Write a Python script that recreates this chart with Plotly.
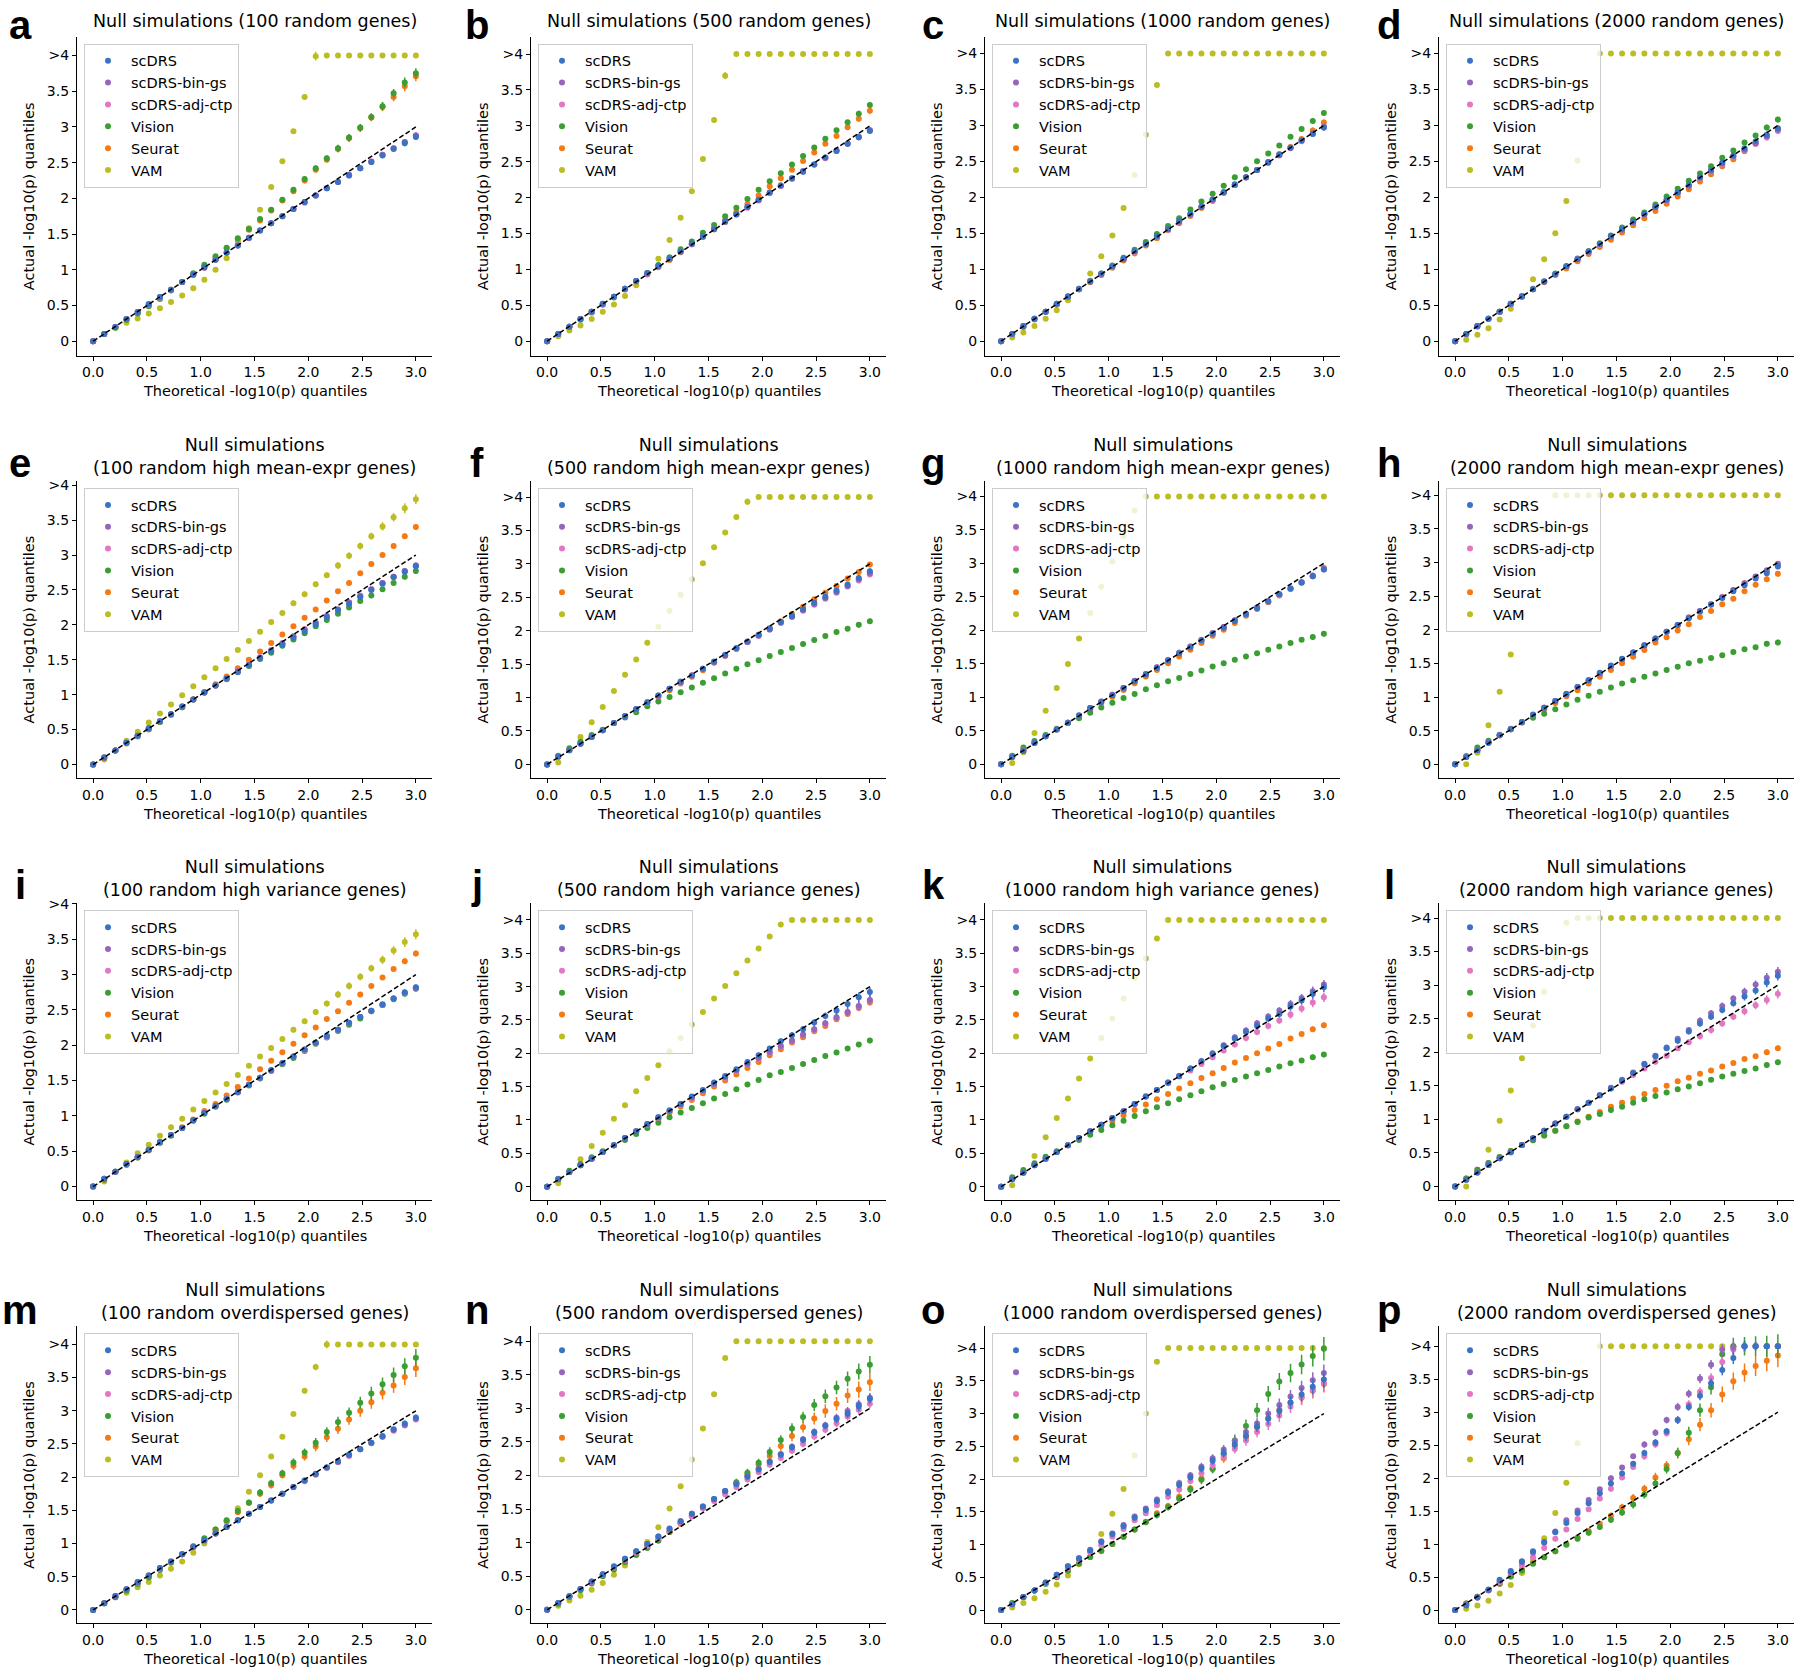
import plotly.graph_objects as go

W, H = 1800, 1673

# x grid (theoretical -log10(p) quantiles)
X = [0.0, 0.103, 0.207, 0.31, 0.414, 0.517, 0.621, 0.724, 0.828, 0.931, 1.034, 1.138, 1.241, 1.345, 1.448,
     1.552, 1.655, 1.759, 1.862, 1.966, 2.069, 2.172, 2.276, 2.379, 2.483, 2.586, 2.69, 2.793, 2.897, 3.0]

SERIES = ["scDRS", "scDRS-bin-gs", "scDRS-adj-ctp", "Vision", "Seurat", "VAM"]
COLORS = ["#3a72c4", "#9467bd", "#e377c2", "#3a9e32", "#f57a14", "#bcbd22"]

# ---------------- panel a ----------------
A_SCDRS = [0,0.10,0.20,0.31,0.41,0.52,0.62,0.72,0.83,0.93,1.04,1.14,1.24,1.34,1.45,1.55,1.65,1.75,1.85,1.95,2.04,2.14,2.23,2.32,2.42,2.51,2.60,2.69,2.77,2.86]
A_BIN = [0,0.10,0.20,0.31,0.41,0.51,0.62,0.72,0.83,0.93,1.03,1.14,1.24,1.34,1.45,1.55,1.65,1.75,1.85,1.95,2.04,2.14,2.23,2.33,2.42,2.51,2.61,2.70,2.79,2.88]
A_ADJ = [0,0.10,0.20,0.31,0.41,0.51,0.61,0.72,0.83,0.93,1.03,1.14,1.24,1.34,1.44,1.55,1.65,1.75,1.85,1.94,2.04,2.14,2.23,2.32,2.42,2.52,2.61,2.70,2.79,2.88]
A_VISION = [0,0.10,0.19,0.30,0.39,0.49,0.59,0.71,0.83,0.95,1.07,1.19,1.31,1.44,1.57,1.71,1.84,1.98,2.12,2.27,2.42,2.56,2.70,2.85,2.99,3.14,3.29,3.47,3.62,3.75]
A_SEURAT = [0,0.10,0.20,0.30,0.40,0.50,0.61,0.72,0.83,0.94,1.05,1.17,1.30,1.43,1.56,1.69,1.83,1.97,2.10,2.25,2.40,2.54,2.69,2.84,2.98,3.13,3.28,3.42,3.57,3.71]
A_VAM = [0,0.10,0.19,0.26,0.32,0.39,0.46,0.55,0.64,0.74,0.86,1.00,1.16,1.40,1.58,1.84,2.16,2.52,2.94,3.42,3.99,4,4,4,4,4,4,4,4,4]
# ---------------- panel b ----------------
B_SCDRS = [0,0.10,0.20,0.31,0.41,0.52,0.62,0.73,0.84,0.95,1.05,1.15,1.25,1.36,1.46,1.56,1.67,1.77,1.87,1.97,2.07,2.17,2.27,2.36,2.46,2.56,2.65,2.75,2.84,2.93]
B_BIN = [0,0.10,0.20,0.31,0.41,0.52,0.62,0.73,0.84,0.94,1.04,1.15,1.25,1.35,1.46,1.56,1.66,1.77,1.87,1.97,2.07,2.17,2.27,2.37,2.46,2.56,2.66,2.75,2.85,2.94]
B_ADJ = [0,0.10,0.20,0.31,0.41,0.51,0.62,0.72,0.83,0.94,1.04,1.14,1.25,1.35,1.45,1.56,1.66,1.76,1.86,1.96,2.06,2.16,2.26,2.36,2.46,2.55,2.65,2.75,2.84,2.94]
B_VISION = [0,0.10,0.20,0.30,0.40,0.51,0.61,0.73,0.84,0.95,1.06,1.17,1.28,1.39,1.51,1.62,1.74,1.86,1.98,2.11,2.23,2.34,2.46,2.58,2.70,2.82,2.94,3.05,3.17,3.29]
B_SEURAT = [0,0.10,0.20,0.31,0.41,0.51,0.62,0.72,0.83,0.93,1.03,1.13,1.24,1.35,1.46,1.57,1.69,1.80,1.91,2.03,2.16,2.27,2.39,2.51,2.63,2.75,2.86,2.98,3.10,3.21]
B_VAM = [0,0.07,0.15,0.22,0.31,0.41,0.51,0.63,0.78,0.94,1.15,1.41,1.72,2.09,2.54,3.08,3.70,4,4,4,4,4,4,4,4,4,4,4,4,4]
# ---------------- panel c ----------------
C_SCDRS = [0,0.10,0.21,0.31,0.41,0.52,0.62,0.73,0.83,0.94,1.04,1.15,1.25,1.35,1.46,1.56,1.67,1.77,1.87,1.97,2.07,2.18,2.28,2.38,2.49,2.59,2.69,2.79,2.88,2.97]
C_BIN = [0,0.10,0.21,0.31,0.41,0.52,0.62,0.72,0.83,0.93,1.04,1.14,1.25,1.35,1.45,1.56,1.66,1.76,1.87,1.97,2.07,2.17,2.28,2.38,2.48,2.59,2.69,2.79,2.89,2.98]
C_ADJ = [0,0.10,0.21,0.31,0.41,0.51,0.62,0.72,0.83,0.93,1.03,1.14,1.24,1.35,1.45,1.55,1.66,1.76,1.86,1.96,2.07,2.17,2.27,2.38,2.48,2.58,2.68,2.78,2.88,2.97]
C_VISION = [0,0.10,0.20,0.31,0.41,0.51,0.62,0.72,0.84,0.94,1.05,1.16,1.27,1.38,1.49,1.60,1.71,1.83,1.94,2.05,2.16,2.28,2.39,2.50,2.61,2.72,2.84,2.95,3.06,3.17]
C_SEURAT = [0,0.10,0.20,0.30,0.41,0.51,0.61,0.72,0.82,0.92,1.02,1.12,1.22,1.33,1.43,1.54,1.64,1.74,1.85,1.95,2.06,2.17,2.28,2.38,2.49,2.60,2.70,2.81,2.93,3.04]
C_VAM = [0,0.05,0.12,0.21,0.31,0.43,0.57,0.73,0.94,1.18,1.47,1.85,2.31,2.87,3.56,4,4,4,4,4,4,4,4,4,4,4,4,4,4,4]
# ---------------- panel d ----------------
D_SCDRS = [0,0.10,0.21,0.31,0.41,0.52,0.62,0.72,0.83,0.93,1.04,1.14,1.25,1.35,1.46,1.56,1.66,1.77,1.87,1.97,2.07,2.17,2.28,2.38,2.48,2.58,2.68,2.78,2.87,2.96]
D_BIN = [0,0.10,0.21,0.31,0.41,0.52,0.62,0.72,0.83,0.93,1.04,1.14,1.24,1.35,1.45,1.55,1.66,1.76,1.86,1.96,2.06,2.16,2.27,2.37,2.47,2.57,2.66,2.75,2.85,2.94]
D_ADJ = [0,0.10,0.21,0.31,0.41,0.51,0.62,0.72,0.83,0.93,1.03,1.14,1.24,1.34,1.45,1.55,1.65,1.76,1.86,1.96,2.06,2.16,2.26,2.36,2.46,2.56,2.65,2.74,2.83,2.92]
D_VISION = [0,0.10,0.21,0.31,0.41,0.52,0.62,0.73,0.83,0.94,1.04,1.15,1.25,1.36,1.47,1.58,1.69,1.79,1.90,2.01,2.12,2.23,2.33,2.43,2.55,2.65,2.76,2.86,2.97,3.08]
D_SEURAT = [0,0.10,0.20,0.31,0.41,0.51,0.62,0.72,0.82,0.92,1.01,1.11,1.21,1.31,1.41,1.51,1.61,1.71,1.81,1.91,2.01,2.11,2.22,2.32,2.43,2.53,2.64,2.75,2.85,2.95]
D_VAM = [0,0.02,0.09,0.18,0.30,0.45,0.63,0.86,1.14,1.50,1.95,2.51,3.20,4,4,4,4,4,4,4,4,4,4,4,4,4,4,4,4,4]
# ---------------- panel e ----------------
E_SCDRS = [0,0.10,0.20,0.31,0.41,0.52,0.62,0.72,0.83,0.93,1.03,1.13,1.23,1.33,1.42,1.52,1.62,1.72,1.82,1.91,2.01,2.11,2.21,2.30,2.40,2.50,2.59,2.68,2.76,2.84]
E_BIN = [0,0.10,0.20,0.31,0.41,0.52,0.62,0.72,0.83,0.93,1.03,1.13,1.23,1.33,1.43,1.53,1.63,1.73,1.83,1.93,2.03,2.12,2.22,2.32,2.41,2.51,2.60,2.69,2.77,2.85]
E_ADJ = [0,0.10,0.20,0.31,0.41,0.52,0.62,0.72,0.83,0.93,1.03,1.13,1.23,1.34,1.44,1.54,1.64,1.74,1.84,1.94,2.03,2.13,2.22,2.32,2.42,2.51,2.60,2.69,2.77,2.85]
E_VISION = [0,0.10,0.20,0.31,0.41,0.51,0.61,0.72,0.82,0.93,1.03,1.13,1.22,1.32,1.41,1.51,1.60,1.70,1.79,1.88,1.98,2.07,2.16,2.25,2.34,2.42,2.51,2.60,2.69,2.77]
E_SEURAT = [0,0.09,0.20,0.30,0.40,0.50,0.61,0.71,0.82,0.93,1.04,1.15,1.26,1.38,1.50,1.62,1.74,1.86,1.98,2.10,2.22,2.35,2.48,2.60,2.74,2.87,3.00,3.13,3.27,3.40]
E_VAM = [0,0.07,0.20,0.34,0.47,0.60,0.73,0.86,0.99,1.12,1.25,1.38,1.51,1.64,1.77,1.90,2.04,2.17,2.31,2.44,2.58,2.71,2.85,2.99,3.13,3.27,3.41,3.54,3.67,3.80]
# ---------------- panel f ----------------
F_SCDRS = [0,0.12,0.21,0.31,0.41,0.51,0.62,0.72,0.83,0.93,1.03,1.13,1.24,1.33,1.43,1.54,1.64,1.74,1.84,1.94,2.03,2.13,2.22,2.32,2.42,2.51,2.60,2.69,2.79,2.89]
F_BIN = [0,0.12,0.21,0.31,0.41,0.51,0.62,0.72,0.83,0.93,1.03,1.13,1.23,1.33,1.43,1.53,1.63,1.73,1.83,1.93,2.02,2.12,2.21,2.31,2.40,2.49,2.58,2.67,2.77,2.86]
F_ADJ = [0,0.12,0.21,0.31,0.41,0.51,0.62,0.72,0.82,0.92,1.02,1.13,1.23,1.33,1.43,1.53,1.63,1.73,1.83,1.92,2.02,2.12,2.21,2.30,2.39,2.48,2.57,2.66,2.75,2.84]
F_VISION = [0,0.13,0.24,0.34,0.44,0.52,0.62,0.70,0.78,0.87,0.94,1.01,1.08,1.15,1.22,1.29,1.36,1.43,1.50,1.56,1.62,1.68,1.74,1.80,1.86,1.92,1.98,2.03,2.09,2.14]
F_SEURAT = [0,0.11,0.22,0.32,0.42,0.51,0.62,0.72,0.82,0.92,1.01,1.11,1.21,1.31,1.41,1.52,1.62,1.73,1.83,1.94,2.04,2.14,2.25,2.36,2.47,2.57,2.67,2.78,2.88,2.99]
F_VAM = [0,0.03,0.22,0.41,0.63,0.86,1.10,1.34,1.57,1.82,2.06,2.30,2.54,2.77,3.01,3.25,3.47,3.70,3.93,4,4,4,4,4,4,4,4,4,4,4]
# ---------------- panel g ----------------
G_SCDRS = [0,0.11,0.20,0.32,0.42,0.52,0.62,0.73,0.84,0.93,1.03,1.14,1.24,1.34,1.44,1.55,1.66,1.75,1.85,1.95,2.04,2.14,2.24,2.33,2.43,2.54,2.62,2.71,2.81,2.91]
G_BIN = [0,0.11,0.21,0.32,0.42,0.52,0.62,0.73,0.84,0.94,1.04,1.14,1.25,1.35,1.45,1.55,1.66,1.76,1.86,1.96,2.05,2.15,2.25,2.34,2.44,2.54,2.63,2.72,2.82,2.92]
G_ADJ = [0,0.11,0.21,0.32,0.42,0.52,0.62,0.73,0.84,0.94,1.04,1.14,1.24,1.35,1.45,1.56,1.67,1.76,1.85,1.95,2.05,2.15,2.24,2.34,2.43,2.53,2.62,2.72,2.81,2.91]
G_VISION = [0,0.13,0.25,0.35,0.44,0.53,0.62,0.69,0.77,0.85,0.92,0.99,1.05,1.12,1.18,1.24,1.29,1.35,1.40,1.46,1.51,1.56,1.61,1.66,1.71,1.76,1.81,1.86,1.90,1.95]
G_SEURAT = [0,0.12,0.22,0.33,0.42,0.52,0.62,0.72,0.82,0.92,1.01,1.11,1.21,1.31,1.41,1.51,1.61,1.71,1.81,1.92,2.01,2.11,2.22,2.32,2.42,2.52,2.62,2.72,2.81,2.93]
G_VAM = [0,0.02,0.18,0.47,0.80,1.14,1.50,1.88,2.26,2.65,3.03,3.41,3.79,4,4,4,4,4,4,4,4,4,4,4,4,4,4,4,4,4]
# ---------------- panel h ----------------
H_SCDRS = [0,0.11,0.21,0.32,0.43,0.52,0.63,0.74,0.84,0.94,1.05,1.15,1.25,1.36,1.47,1.57,1.66,1.77,1.87,1.97,2.07,2.17,2.27,2.37,2.47,2.57,2.66,2.76,2.84,2.94]
H_BIN = [0,0.11,0.21,0.32,0.43,0.52,0.63,0.73,0.84,0.94,1.04,1.15,1.25,1.35,1.46,1.56,1.66,1.77,1.87,1.97,2.07,2.18,2.28,2.38,2.48,2.59,2.69,2.79,2.88,2.98]
H_ADJ = [0,0.11,0.21,0.32,0.43,0.52,0.63,0.73,0.84,0.94,1.04,1.15,1.25,1.35,1.46,1.56,1.66,1.76,1.86,1.97,2.07,2.18,2.28,2.38,2.49,2.59,2.69,2.78,2.88,2.97]
H_VISION = [0,0.12,0.25,0.35,0.44,0.53,0.62,0.69,0.75,0.82,0.89,0.96,1.02,1.08,1.14,1.20,1.25,1.30,1.35,1.40,1.45,1.50,1.54,1.58,1.62,1.67,1.71,1.74,1.79,1.81]
H_SEURAT = [0,0.12,0.22,0.33,0.43,0.52,0.62,0.72,0.82,0.91,1.01,1.10,1.20,1.30,1.40,1.50,1.60,1.70,1.81,1.89,1.99,2.08,2.19,2.28,2.38,2.46,2.57,2.67,2.75,2.83]
H_VAM = [0,0.0,0.17,0.58,1.08,1.63,2.22,2.84,3.50,4,4,4,4,4,4,4,4,4,4,4,4,4,4,4,4,4,4,4,4,4]
# ---------------- panel i ----------------
I_SCDRS = [0,0.11,0.21,0.32,0.42,0.52,0.63,0.73,0.83,0.94,1.04,1.14,1.24,1.34,1.44,1.54,1.65,1.75,1.84,1.94,2.04,2.13,2.22,2.32,2.40,2.49,2.58,2.66,2.75,2.82]
I_BIN = [0,0.11,0.21,0.32,0.42,0.52,0.63,0.73,0.83,0.94,1.04,1.14,1.24,1.34,1.44,1.54,1.64,1.74,1.84,1.94,2.03,2.13,2.22,2.31,2.40,2.49,2.57,2.66,2.74,2.81]
I_ADJ = [0,0.11,0.21,0.32,0.42,0.52,0.63,0.73,0.83,0.94,1.04,1.14,1.24,1.34,1.44,1.54,1.64,1.74,1.84,1.93,2.03,2.12,2.22,2.31,2.40,2.48,2.57,2.66,2.74,2.81]
I_VISION = [0,0.10,0.21,0.31,0.41,0.52,0.62,0.72,0.83,0.93,1.03,1.13,1.23,1.33,1.43,1.53,1.64,1.73,1.82,1.92,2.02,2.11,2.20,2.29,2.38,2.48,2.57,2.65,2.73,2.80]
I_SEURAT = [0,0.10,0.21,0.31,0.41,0.51,0.62,0.73,0.84,0.95,1.07,1.17,1.29,1.41,1.53,1.66,1.78,1.90,2.02,2.14,2.25,2.37,2.48,2.60,2.72,2.84,2.96,3.08,3.19,3.30]
I_VAM = [0,0.07,0.21,0.34,0.47,0.59,0.72,0.84,0.96,1.09,1.21,1.33,1.45,1.58,1.71,1.84,1.96,2.09,2.22,2.34,2.47,2.59,2.72,2.84,2.97,3.09,3.21,3.34,3.46,3.57]
# ---------------- panel j ----------------
J_SCDRS = [0,0.11,0.22,0.32,0.42,0.52,0.62,0.73,0.83,0.94,1.04,1.14,1.24,1.35,1.45,1.56,1.66,1.76,1.87,1.97,2.07,2.18,2.27,2.36,2.46,2.56,2.64,2.74,2.84,2.92]
J_BIN = [0,0.11,0.22,0.32,0.42,0.52,0.62,0.73,0.83,0.94,1.04,1.14,1.24,1.34,1.44,1.54,1.64,1.74,1.84,1.93,2.02,2.11,2.19,2.28,2.36,2.45,2.54,2.62,2.71,2.80]
J_ADJ = [0,0.11,0.22,0.32,0.42,0.52,0.62,0.73,0.83,0.93,1.03,1.13,1.23,1.33,1.43,1.53,1.63,1.73,1.83,1.92,2.01,2.10,2.18,2.27,2.35,2.44,2.53,2.61,2.70,2.79]
J_VISION = [0,0.12,0.24,0.34,0.44,0.53,0.62,0.70,0.79,0.88,0.96,1.04,1.11,1.18,1.25,1.32,1.39,1.46,1.53,1.60,1.67,1.72,1.78,1.84,1.90,1.96,2.01,2.07,2.13,2.19]
J_SEURAT = [0,0.11,0.22,0.32,0.42,0.52,0.62,0.72,0.82,0.91,1.01,1.11,1.20,1.30,1.40,1.50,1.59,1.68,1.78,1.87,1.97,2.06,2.16,2.24,2.33,2.41,2.51,2.59,2.68,2.76]
J_VAM = [0,0.05,0.22,0.41,0.61,0.81,1.02,1.22,1.43,1.63,1.82,2.03,2.23,2.43,2.62,2.82,3.01,3.20,3.39,3.57,3.75,3.93,4,4,4,4,4,4,4,4]
# ---------------- panel k ----------------
K_SCDRS = [0,0.11,0.21,0.32,0.42,0.52,0.62,0.73,0.83,0.93,1.03,1.13,1.24,1.35,1.45,1.56,1.66,1.77,1.88,1.99,2.11,2.22,2.32,2.41,2.52,2.59,2.70,2.79,2.89,2.99]
K_BIN = [0,0.11,0.21,0.32,0.42,0.52,0.62,0.73,0.83,0.93,1.03,1.13,1.24,1.35,1.45,1.56,1.66,1.77,1.88,2.00,2.12,2.24,2.34,2.45,2.55,2.64,2.74,2.83,2.93,3.03]
K_ADJ = [0,0.11,0.21,0.32,0.42,0.52,0.62,0.73,0.83,0.93,1.03,1.13,1.24,1.35,1.45,1.55,1.65,1.74,1.84,1.94,2.04,2.13,2.23,2.32,2.41,2.49,2.58,2.67,2.76,2.84]
K_VISION = [0,0.14,0.25,0.35,0.45,0.53,0.62,0.70,0.78,0.85,0.92,0.99,1.06,1.13,1.19,1.25,1.31,1.37,1.43,1.49,1.54,1.60,1.65,1.70,1.75,1.80,1.85,1.89,1.94,1.98]
K_SEURAT = [0,0.12,0.22,0.33,0.43,0.52,0.62,0.72,0.82,0.91,0.99,1.07,1.15,1.23,1.31,1.39,1.47,1.55,1.63,1.70,1.78,1.86,1.93,2.00,2.07,2.14,2.22,2.29,2.36,2.42]
K_VAM = [0,0.02,0.22,0.46,0.74,1.03,1.32,1.62,1.92,2.23,2.52,2.82,3.13,3.42,3.72,4,4,4,4,4,4,4,4,4,4,4,4,4,4,4]
# ---------------- panel l ----------------
L_SCDRS = [0,0.10,0.21,0.32,0.42,0.51,0.62,0.72,0.83,0.94,1.04,1.15,1.25,1.36,1.46,1.58,1.69,1.82,1.94,2.06,2.17,2.31,2.43,2.53,2.63,2.73,2.83,2.92,3.04,3.14]
L_BIN = [0,0.10,0.21,0.32,0.42,0.51,0.62,0.72,0.83,0.94,1.04,1.15,1.25,1.36,1.47,1.59,1.70,1.83,1.95,2.07,2.20,2.33,2.47,2.58,2.69,2.80,2.90,3.01,3.11,3.20]
L_ADJ = [0,0.10,0.21,0.32,0.42,0.51,0.62,0.72,0.83,0.94,1.04,1.15,1.25,1.36,1.46,1.56,1.66,1.76,1.86,1.95,2.06,2.15,2.24,2.33,2.43,2.53,2.61,2.70,2.78,2.87]
L_VISION = [0,0.12,0.25,0.35,0.44,0.53,0.62,0.69,0.76,0.83,0.90,0.96,1.03,1.08,1.14,1.19,1.25,1.30,1.35,1.40,1.45,1.49,1.54,1.59,1.64,1.68,1.72,1.76,1.81,1.85]
L_SEURAT = [0,0.12,0.25,0.35,0.44,0.53,0.62,0.69,0.76,0.83,0.90,0.97,1.04,1.11,1.19,1.25,1.31,1.38,1.44,1.50,1.57,1.62,1.68,1.73,1.79,1.84,1.90,1.94,2.00,2.06]
L_VAM = [0,0.0,0.21,0.55,0.98,1.43,1.91,2.40,2.90,3.42,3.93,4,4,4,4,4,4,4,4,4,4,4,4,4,4,4,4,4,4,4]
# ---------------- panel m ----------------
M_SCDRS = [0,0.10,0.21,0.31,0.42,0.52,0.63,0.73,0.84,0.95,1.05,1.15,1.25,1.35,1.45,1.55,1.65,1.75,1.85,1.95,2.05,2.15,2.24,2.34,2.42,2.52,2.62,2.72,2.81,2.90]
M_BIN = [0,0.10,0.21,0.31,0.42,0.52,0.63,0.73,0.84,0.95,1.05,1.15,1.25,1.35,1.45,1.55,1.65,1.75,1.85,1.95,2.04,2.14,2.23,2.33,2.42,2.52,2.61,2.71,2.79,2.88]
M_ADJ = [0,0.10,0.21,0.31,0.41,0.52,0.62,0.73,0.84,0.94,1.04,1.15,1.25,1.35,1.45,1.55,1.65,1.75,1.85,1.94,2.04,2.14,2.23,2.32,2.42,2.51,2.61,2.70,2.78,2.87]
M_VISION = [0,0.10,0.19,0.29,0.39,0.49,0.60,0.71,0.84,0.96,1.08,1.21,1.35,1.49,1.62,1.77,1.91,2.06,2.22,2.37,2.52,2.68,2.83,2.97,3.12,3.26,3.40,3.54,3.67,3.80]
M_SEURAT = [0,0.10,0.20,0.30,0.40,0.50,0.61,0.72,0.84,0.95,1.07,1.21,1.34,1.47,1.61,1.75,1.88,2.03,2.17,2.31,2.46,2.60,2.73,2.87,3.00,3.13,3.27,3.38,3.51,3.64]
M_VAM = [0,0.10,0.19,0.26,0.34,0.42,0.52,0.62,0.73,0.86,1.00,1.18,1.33,1.53,1.78,2.03,2.31,2.61,2.95,3.30,3.66,4.00,4,4,4,4,4,4,4,4]
# ---------------- panel n ----------------
N_SCDRS = [0,0.10,0.20,0.31,0.42,0.53,0.65,0.76,0.87,0.98,1.09,1.21,1.32,1.43,1.54,1.65,1.77,1.87,1.98,2.09,2.20,2.31,2.42,2.53,2.64,2.74,2.84,2.92,3.03,3.14]
N_BIN = [0,0.10,0.20,0.31,0.42,0.53,0.64,0.76,0.87,0.98,1.09,1.20,1.32,1.43,1.54,1.65,1.77,1.88,1.99,2.10,2.21,2.32,2.43,2.54,2.65,2.75,2.86,2.96,3.06,3.16]
N_ADJ = [0,0.10,0.20,0.31,0.41,0.52,0.63,0.74,0.85,0.95,1.06,1.17,1.29,1.39,1.51,1.62,1.72,1.83,1.94,2.05,2.16,2.26,2.37,2.47,2.58,2.68,2.78,2.88,2.98,3.07]
N_VISION = [0,0.09,0.19,0.29,0.39,0.50,0.60,0.71,0.82,0.92,1.03,1.16,1.29,1.40,1.52,1.64,1.76,1.90,2.04,2.19,2.35,2.53,2.70,2.87,3.05,3.18,3.31,3.44,3.55,3.65]
N_SEURAT = [0,0.10,0.20,0.30,0.41,0.51,0.61,0.71,0.82,0.93,1.04,1.16,1.28,1.40,1.52,1.64,1.76,1.88,2.02,2.16,2.29,2.44,2.59,2.72,2.85,2.96,3.07,3.19,3.28,3.39]
N_VAM = [0,0.06,0.14,0.21,0.30,0.40,0.52,0.66,0.82,1.01,1.23,1.51,1.84,2.24,2.70,3.21,3.75,4,4,4,4,4,4,4,4,4,4,4,4,4]
# ---------------- panel o ----------------
O_SCDRS = [0,0.09,0.20,0.30,0.42,0.54,0.67,0.79,0.91,1.04,1.16,1.28,1.41,1.53,1.66,1.79,1.91,2.03,2.16,2.28,2.40,2.53,2.66,2.80,2.92,3.04,3.17,3.29,3.41,3.52]
O_BIN = [0,0.09,0.20,0.30,0.42,0.54,0.67,0.79,0.92,1.05,1.17,1.30,1.43,1.55,1.69,1.81,1.94,2.06,2.19,2.32,2.45,2.58,2.72,2.85,3.00,3.13,3.26,3.39,3.51,3.62]
O_ADJ = [0,0.09,0.20,0.30,0.41,0.52,0.64,0.76,0.88,0.99,1.12,1.24,1.37,1.48,1.60,1.73,1.84,1.97,2.09,2.21,2.34,2.46,2.59,2.72,2.84,2.97,3.11,3.24,3.36,3.46]
O_VISION = [0,0.11,0.20,0.30,0.40,0.50,0.60,0.71,0.81,0.91,1.01,1.12,1.23,1.34,1.45,1.57,1.70,1.84,1.99,2.16,2.38,2.59,2.81,3.05,3.30,3.49,3.62,3.75,3.88,3.99]
O_SEURAT = [0,0.10,0.20,0.30,0.41,0.51,0.61,0.71,0.81,0.90,1.01,1.12,1.23,1.35,1.48,1.59,1.73,1.86,2.01,2.15,2.32,2.49,2.64,2.79,2.93,3.06,3.16,3.25,3.35,3.45]
O_VAM = [0,0.04,0.11,0.18,0.28,0.39,0.53,0.70,0.90,1.16,1.47,1.85,2.36,3.00,3.79,4,4,4,4,4,4,4,4,4,4,4,4,4,4,4]
# ---------------- panel p ----------------
P_SCDRS = [0,0.07,0.19,0.31,0.46,0.59,0.74,0.89,1.03,1.18,1.32,1.47,1.62,1.77,1.92,2.07,2.22,2.38,2.54,2.71,2.88,3.08,3.25,3.44,3.64,3.82,4.00,4.00,4.00,4.00]
P_BIN = [0,0.08,0.19,0.30,0.44,0.57,0.72,0.87,1.02,1.19,1.36,1.51,1.67,1.83,2.00,2.16,2.33,2.51,2.69,2.88,3.08,3.28,3.51,3.72,3.95,3.98,4,4,4,4]
P_ADJ = [0,0.08,0.19,0.30,0.42,0.56,0.67,0.80,0.94,1.08,1.22,1.38,1.53,1.69,1.84,2.01,2.17,2.33,2.51,2.68,2.88,3.12,3.31,3.52,3.76,3.95,4,4,4,4]
P_VISION = [0,0.10,0.20,0.30,0.40,0.51,0.60,0.70,0.80,0.89,0.99,1.08,1.17,1.26,1.37,1.48,1.60,1.75,1.92,2.14,2.38,2.69,3.03,3.38,3.88,4.00,4,4,4,4]
P_SEURAT = [0,0.10,0.20,0.30,0.40,0.51,0.61,0.71,0.80,0.89,1.00,1.10,1.20,1.31,1.43,1.56,1.70,1.84,2.01,2.19,2.38,2.59,2.81,3.03,3.27,3.47,3.60,3.70,3.78,3.86]
P_VAM = [0,0.02,0.07,0.14,0.25,0.38,0.56,0.76,1.09,1.47,1.93,2.53,3.20,4,4,4,4,4,4,4,4,4,4,4,4,4,4,4,4,4]

# ---------------- error bar half-widths (hundredths) ----------------
ES = [0,1,1,1,1,1,1,1,1,1,1,1,1,1,2,2,2,2,2,2,2,2,2,3,3,3,3,3,4,4]
EM = [0,1,1,1,1,1,1,2,2,2,2,2,2,3,3,3,3,3,4,4,4,4,5,5,5,5,6,6,7,7]
EL = [0,1,1,1,2,2,2,2,3,3,3,3,4,4,4,5,5,5,6,6,7,7,8,8,9,10,10,11,12,13]
EXL = [0,1,1,2,2,2,2,3,3,3,3,4,4,4,5,5,6,6,7,7,8,9,10,11,12,13,14,15,16,18]
EV = [0,1,1,1,1,1,1,1,1,1,1,1,1,1,1,1,1,1,1,1,1,1,1,1,1,1,1,1,1,1]
A_VAM_ERR = [0,1,1,1,1,1,1,1,1,1,1,1,2,2,2,2,2,2,3,4,6,0,0,0,0,0,0,0,0,0]
B_VAM_ERR = [0,1,1,1,1,1,1,1,1,1,1,1,1,2,2,4,5,0,0,0,0,0,0,0,0,0,0,0,0,0]
F_VAM_ERR = [0,1,1,1,1,1,1,1,1,1,1,1,1,2,2,2,3,3,5,0,0,0,0,0,0,0,0,0,0,0]
M_VAM_ERR = [0,1,1,1,1,1,1,1,1,1,1,1,1,2,2,2,2,3,3,4,5,6,0,0,0,0,0,0,0,0]
P_TRIO_ERR = [0,1,1,1,2,2,2,2,3,3,3,3,3,3,4,4,4,5,5,5,6,6,7,7,8,9,8,6,5,1]

PANEL_Y = [
    (A_SCDRS, A_BIN, A_ADJ, A_VISION, A_SEURAT, A_VAM),
    (B_SCDRS, B_BIN, B_ADJ, B_VISION, B_SEURAT, B_VAM),
    (C_SCDRS, C_BIN, C_ADJ, C_VISION, C_SEURAT, C_VAM),
    (D_SCDRS, D_BIN, D_ADJ, D_VISION, D_SEURAT, D_VAM),
    (E_SCDRS, E_BIN, E_ADJ, E_VISION, E_SEURAT, E_VAM),
    (F_SCDRS, F_BIN, F_ADJ, F_VISION, F_SEURAT, F_VAM),
    (G_SCDRS, G_BIN, G_ADJ, G_VISION, G_SEURAT, G_VAM),
    (H_SCDRS, H_BIN, H_ADJ, H_VISION, H_SEURAT, H_VAM),
    (I_SCDRS, I_BIN, I_ADJ, I_VISION, I_SEURAT, I_VAM),
    (J_SCDRS, J_BIN, J_ADJ, J_VISION, J_SEURAT, J_VAM),
    (K_SCDRS, K_BIN, K_ADJ, K_VISION, K_SEURAT, K_VAM),
    (L_SCDRS, L_BIN, L_ADJ, L_VISION, L_SEURAT, L_VAM),
    (M_SCDRS, M_BIN, M_ADJ, M_VISION, M_SEURAT, M_VAM),
    (N_SCDRS, N_BIN, N_ADJ, N_VISION, N_SEURAT, N_VAM),
    (O_SCDRS, O_BIN, O_ADJ, O_VISION, O_SEURAT, O_VAM),
    (P_SCDRS, P_BIN, P_ADJ, P_VISION, P_SEURAT, P_VAM),
]
PANEL_ERR = [
    (ES, ES, ES, EM, EM, A_VAM_ERR),
    (ES, ES, ES, ES, ES, B_VAM_ERR),
    (ES, ES, ES, ES, ES, EV),
    (ES, ES, ES, ES, ES, EV),
    (ES, ES, ES, ES, ES, EM),
    (ES, ES, ES, ES, ES, F_VAM_ERR),
    (ES, ES, ES, ES, ES, EV),
    (ES, ES, ES, ES, ES, EV),
    (ES, ES, ES, ES, ES, EM),
    (EM, EM, EM, ES, ES, EV),
    (EM, EM, EM, ES, ES, EV),
    (EM, EM, EM, ES, ES, EV),
    (ES, ES, ES, EL, EL, M_VAM_ERR),
    (EM, EM, EM, EL, EL, EV),
    (EL, EL, EL, EXL, EL, EV),
    (P_TRIO_ERR, P_TRIO_ERR, P_TRIO_ERR, EXL, EXL, EV),
]

N_GENES = ["100", "500", "1000", "2000"]
ROW_KIND = ["", "high mean-expr ", "high variance ", "overdispersed "]
LETTERS = "abcdefghijklmnop"
Y_TOP = [4.26, 4.24, 4.23, 4.23, 4.06, 4.24, 4.23, 4.21, 4.01, 4.25, 4.25, 4.22, 4.27, 4.22, 4.33, 4.30]
Y_BOT = [-0.2, -0.2, -0.2, -0.2, -0.19, -0.2, -0.2, -0.2, -0.19, -0.2, -0.2, -0.2, -0.2, -0.2, -0.2, -0.2]
X_TICKS = [0.0, 0.5, 1.0, 1.5, 2.0, 2.5, 3.0]
X_TICKTEXT = ["0.0", "0.5", "1.0", "1.5", "2.0", "2.5", "3.0"]
Y_TICKS = [0, 0.5, 1, 1.5, 2, 2.5, 3, 3.5, 4]
Y_TICKTEXT = ["0", "0.5", "1", "1.5", "2", "2.5", "3", "3.5", ">4"]

# layout geometry (pixels)
COL_L = [77, 531, 985, 1439]
AX_W = 355
ROW_T = [30, 476, 900, 1325]
ROW_B = [350, 774, 1198, 1623]
LETTER_XC = [20, 477, 933, 1389]
LETTER_YC = [18, 458, 882, 1308]

FONT = "DejaVu Sans"


def px(xp):
    return xp / W


def py(yp):
    return 1 - yp / H


fig = go.Figure()
annotations = []
layout = dict(width=W, height=H, margin=dict(l=0, r=0, t=0, b=0),
              paper_bgcolor="white", plot_bgcolor="white", showlegend=True,
              font=dict(family=FONT, color="black"))

for k in range(16):
    r, c = divmod(k, 4)
    sfx = "" if k == 0 else str(k + 1)
    L = COL_L[c]
    R = L + AX_W
    T = ROW_T[r]
    B = ROW_B[r]
    ys = PANEL_Y[k]
    es = PANEL_ERR[k]
    for s in reversed(range(6)):
        fig.add_trace(go.Scatter(
            x=X, y=ys[s], mode="markers", name=SERIES[s],
            marker=dict(color=COLORS[s], size=6, line=dict(width=0)),
            error_y=dict(type="data", array=[e / 100 for e in es[s]], visible=True,
                         thickness=1.5, width=0, color=COLORS[s]),
            xaxis="x" + sfx, yaxis="y" + sfx, legend="legend" + sfx,
            legendrank=s + 1, showlegend=True))
    fig.add_trace(go.Scatter(
        x=[X[0], X[-1]], y=[X[0], X[-1]], mode="lines",
        line=dict(color="black", width=1.5, dash="5px,2.5px"),
        xaxis="x" + sfx, yaxis="y" + sfx, showlegend=False, hoverinfo="skip"))

    axis_common = dict(showline=True, linecolor="black", linewidth=1.2, ticks="outside",
                       ticklen=4, tickwidth=1.2, tickcolor="black", showgrid=False,
                       zeroline=False, tickfont=dict(family=FONT, size=14, color="black"))
    layout["xaxis" + sfx] = dict(domain=[px(L), px(R)], anchor="y" + sfx, range=[-0.15, 3.15],
                                 tickvals=X_TICKS, ticktext=X_TICKTEXT, **axis_common)
    layout["yaxis" + sfx] = dict(domain=[py(B), py(T)], anchor="x" + sfx,
                                 range=[Y_BOT[k], Y_TOP[k]],
                                 tickvals=Y_TICKS, ticktext=Y_TICKTEXT, **axis_common)
    layout["legend" + sfx] = dict(x=px(L + 7), y=py(T + 7), xanchor="left", yanchor="top",
                                  bgcolor="rgba(255,255,255,0.8)", bordercolor="#cccccc",
                                  borderwidth=1, font=dict(family=FONT, size=14.5, color="black"),
                                  traceorder="normal", itemwidth=36)

    if r == 0:
        title = f"Null simulations ({N_GENES[c]} random genes)"
        ty = T - 16
    else:
        title = f"Null simulations<br>({N_GENES[c]} random {ROW_KIND[r]}genes)"
        ty = T - 25
    annotations.append(dict(text=title, x=px((L + R) / 2), y=py(ty), xref="paper", yref="paper",
                            xanchor="center", yanchor="middle", showarrow=False,
                            font=dict(family=FONT, size=17.5, color="black")))
    annotations.append(dict(text="Theoretical -log10(p) quantiles", x=px((L + R) / 2), y=py(B + 36),
                            xref="paper", yref="paper", xanchor="center", yanchor="middle",
                            showarrow=False, font=dict(family=FONT, size=14.5, color="black")))
    annotations.append(dict(text="Actual -log10(p) quantiles", x=px(L - 48), y=py((T + B) / 2),
                            xref="paper", yref="paper", xanchor="center", yanchor="middle",
                            textangle=-90, showarrow=False,
                            font=dict(family=FONT, size=14.5, color="black")))
    annotations.append(dict(text=f"<b>{LETTERS[k]}</b>", x=px(LETTER_XC[c]), y=py(LETTER_YC[r]),
                            xref="paper", yref="paper", xanchor="center", yanchor="middle",
                            showarrow=False,
                            font=dict(family="Liberation Sans", size=40, color="black")))

layout["annotations"] = annotations
fig.update_layout(**layout)
fig.write_html("out.html", config={"displayModeBar": False},
               post_script="document.body.style.margin='0px';document.body.style.overflow='hidden';")
